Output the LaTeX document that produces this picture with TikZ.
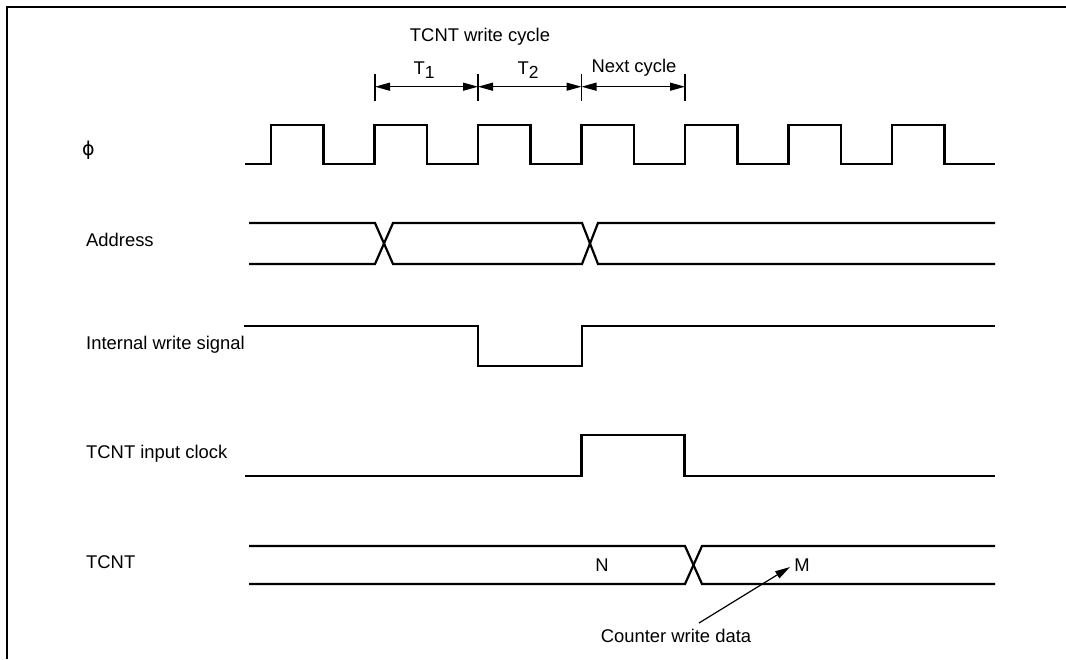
\documentclass[tikz,border=0pt]{standalone}
\usepackage{fontspec}
\setmainfont{Liberation Sans}
\newfontfamily\dejavu{DejaVu Sans}
\usetikzlibrary{arrows.meta}
\begin{document}
\begin{tikzpicture}[x=1pt,y=-1pt,
  wave/.style={line width=2.2pt, line join=miter},
  frame/.style={line width=2.5pt},
  lbl/.style={font=\fontsize{18.4}{22}\selectfont, inner sep=0pt},
  dimtick/.style={line width=1.2pt},
  dimarrow/.style={line width=1.2pt, {Triangle[length=15pt,width=8pt]}-{Triangle[length=15pt,width=8pt]}},
  callout/.style={line width=1.2pt, -{Triangle[length=15pt,width=8pt]}}]
\useasboundingbox (0,0) rectangle (1066,659);
% frame (top and left edges)
\draw[frame] (1066,7) -- (7,7) -- (7,659);

% signal labels
\node[lbl, anchor=center] (lphi) at (88.5,150) {\dejavu\fontsize{19}{22}\selectfont ϕ};
\node[lbl, anchor=base west] (laddr) at (86,246.5) {Address};
\node[lbl, anchor=base west] (lwr) at (86,349) {Internal write signal};
\node[lbl, anchor=base west] (lclk) at (86,458) {TCNT input clock};
\node[lbl, anchor=base west] (ltcnt) at (86,568) {TCNT};

% top annotation
\node[lbl, anchor=base] (cyc) at (480,41.5) {TCNT write cycle};
\coordinate (t0) at (375,86.7);
\coordinate (t1) at (478,86.7);
\coordinate (t2) at (581.5,86.7);
\coordinate (t3) at (685,86.7);
\foreach \t in {t0,t1,t2,t3} \draw[dimtick] ([yshift=-14pt]\t) -- ([yshift=13pt]\t);
\draw[dimarrow] (t0) -- (t1);
\draw[dimarrow] (t1) -- (t2);
\draw[dimarrow] (t2) -- (t3);
\node[lbl, anchor=base] (T1) at (424,74.5) {T\raisebox{-4pt}{\fontsize{17.5}{20}\selectfont 1}};
\node[lbl, anchor=base] (T2) at (528,74.5) {T\raisebox{-4pt}{\fontsize{17.5}{20}\selectfont 2}};
\node[lbl, anchor=base] (nxt) at (634,72.5) {Next cycle};

% phi clock
\draw[wave] (245,164)
  foreach \i in {0,...,6} { -- ({271+103.5*\i},164) -- ({271+103.5*\i},125)
  -- ({323.5+103.5*\i},125) -- ({323.5+103.5*\i},164) } -- (995,164);

% Address
\draw[wave] (249,223) -- (375,223) -- (393,264) -- (582,264) -- (598,223) -- (995,223);
\draw[wave] (249,264) -- (375,264) -- (393,223) -- (582,223) -- (598,264) -- (995,264);

% Internal write signal
\draw[wave] (244,326) -- (478,326) -- (478,366) -- (582,366) -- (582,326) -- (995,326);

% TCNT input clock
\draw[wave] (245,476) -- (581.5,476) -- (581.5,435) -- (684.5,435) -- (684.5,476) -- (995,476);

% TCNT
\draw[wave] (249,546) -- (685,546) -- (702,584) -- (995,584);
\draw[wave] (249,584) -- (685,584) -- (702,546) -- (995,546);
\node[lbl, anchor=base] (N) at (602,571) {N};
\node[lbl, anchor=base] (M) at (802,571) {M};
\node[lbl, anchor=base] (cwd) at (676,642) {Counter write data};
\coordinate (cwdtail) at (699,623);
\coordinate (cwdtip) at (790,567);
\draw[callout] (cwdtail) -- (cwdtip);
\end{tikzpicture}
\end{document}
